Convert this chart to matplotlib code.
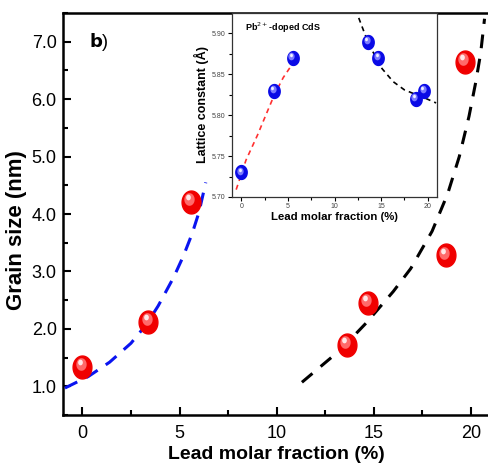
import matplotlib
matplotlib.use("Agg")
import matplotlib.pyplot as plt
from matplotlib.path import Path
from matplotlib.transforms import offset_copy
from matplotlib.ticker import MultipleLocator
import numpy as np

# main panel: grain size vs lead molar fraction
lead = [0.0, 3.4, 5.6, 13.6, 14.7, 18.7, 19.7]
grain = [1.34, 2.12, 4.21, 1.72, 2.45, 3.28, 6.65]

# dashed fit lines
fit_blue_x = [-0.9, 0.3, 1.4, 2.5, 3.3, 3.9, 4.7, 5.2, 5.65, 6.0, 6.35]
fit_blue_y = [0.97, 1.17, 1.42, 1.75, 2.08, 2.4, 2.9, 3.27, 3.66, 4.03, 4.55]
fit_black_x = [11.3, 13.3, 14.6, 16.0, 16.9, 18.0, 18.8, 19.4, 19.9, 20.25, 20.5, 20.7]
fit_black_y = [1.07, 1.64, 2.1, 2.65, 3.05, 3.7, 4.35, 5.0, 5.7, 6.3, 6.8, 7.4]

# inset: lattice constant
inset_lead = [0.0, 3.5, 5.5, 13.6, 14.7, 18.7, 19.6]
lattice = [5.73, 5.83, 5.87, 5.89, 5.87, 5.82, 5.83]
fit_red_x = [-0.55, 0.5, 1.75, 2.7, 3.55, 4.5, 5.8]
fit_red_y = [5.709, 5.745, 5.776, 5.802, 5.825, 5.846, 5.868]
fit_k_x = [12.6, 13.3, 14.1, 15.1, 16.3, 17.5, 18.8, 19.9, 20.9]
fit_k_y = [5.919, 5.898, 5.878, 5.857, 5.841, 5.831, 5.825, 5.820, 5.815]

plt.rcParams['font.family'] = ['Liberation Sans', 'DejaVu Sans']

# slightly tall ellipse used as the ball marker
t = np.linspace(0, 2 * np.pi, 60)
ball = Path(np.column_stack([0.82 * np.cos(t), np.sin(t)]), closed=True)


def draw_balls(ax, fig, x, y, size, base, mid, shine):
    ax.plot(x, y, ls='none', marker=ball, ms=size, mfc=base, mec=base, zorder=5)
    tr = offset_copy(ax.transData, fig=fig, x=-size * 0.08, y=size * 0.12, units='points')
    ax.plot(x, y, ls='none', marker=ball, ms=size * 0.55, mfc=mid, mec='none',
            transform=tr, zorder=6)
    tr2 = offset_copy(ax.transData, fig=fig, x=-size * 0.12, y=size * 0.2, units='points')
    ax.plot(x, y, ls='none', marker=ball, ms=size * 0.25, mfc=shine, mec='none',
            transform=tr2, zorder=7)


fig = plt.figure(figsize=(4.89, 4.66), dpi=100)
ax = fig.add_axes([0.1288, 0.1094, 0.874, 0.8627])

ax.plot(fit_blue_x, fit_blue_y, color='#0a14f0', lw=2.2, dashes=(4.5, 3.2), zorder=3)
ax.plot(fit_black_x, fit_black_y, color='black', lw=2.2, dashes=(4.5, 3.5), zorder=3)
draw_balls(ax, fig, lead, grain, 16.5, '#f00000', '#ff6a6a', '#ffe8e8')

ax.set_xlim(-1, 21)
ax.set_ylim(0.5, 7.5)
ax.xaxis.set_major_locator(MultipleLocator(5))
ax.xaxis.set_minor_locator(MultipleLocator(2.5))
ax.yaxis.set_major_locator(MultipleLocator(1))
ax.yaxis.set_minor_locator(MultipleLocator(0.5))
ax.set_yticks(np.arange(1, 8), [f"{v:.1f}" for v in range(1, 8)])
ax.tick_params(which='both', direction='in', width=1.5, labelsize=13, pad=7)
ax.tick_params(axis='y', pad=4.5)
ax.tick_params(which='major', length=6)
ax.tick_params(which='minor', length=3.5)
for s in ['left', 'bottom', 'top']:
    ax.spines[s].set_linewidth(1.8)
ax.spines['right'].set_visible(False)
ax.set_xlabel("Lead molar fraction (%)", fontsize=14, fontweight='bold', labelpad=3)
ax.set_ylabel("Grain size (nm)", fontsize=16, fontweight='bold')
ax.yaxis.set_label_coords(-0.085, 0.46)
ax.text(0.35, 7.0, r"$\mathbf{b}$)", fontsize=13, va='center')

# inset
ins = fig.add_axes([0.4744, 0.5773, 0.4193, 0.3948])
ins.plot(fit_red_x, fit_red_y, color='#ff3030', lw=1.2, dashes=(3, 2.5), zorder=3)
ins.plot(fit_k_x, fit_k_y, color='black', lw=1.2, dashes=(3, 2.5), zorder=3)
draw_balls(ins, fig, inset_lead, lattice, 10, '#0a0ae6', '#7a7aff', '#f0f0ff')
ins.set_xlim(-1, 21)
ins.set_ylim(5.70, 5.925)
ins.xaxis.set_major_locator(MultipleLocator(5))
ins.xaxis.set_minor_locator(MultipleLocator(2.5))
ins.set_yticks([5.70, 5.75, 5.80, 5.85, 5.90])
ins.yaxis.set_minor_locator(MultipleLocator(0.025))
ins.tick_params(which='both', direction='out', width=0.8, labelsize=5,
                labelcolor='#444444', pad=1.5)
ins.tick_params(which='major', length=3)
ins.tick_params(which='minor', length=2)
for s in ins.spines.values():
    s.set_linewidth(0.9)
    s.set_color('#333333')
ins.set_xlabel("Lead molar fraction (%)", fontsize=8.2, fontweight='bold', labelpad=1)
ins.set_ylabel("Lattice constant (Å)", fontsize=9, fontweight='bold')
ins.yaxis.set_label_coords(-0.11, 0.5)
ins.text(0.4, 5.907, r"Pb$^{2+}$-doped CdS", fontsize=6.5, fontweight='bold', va='center')

fig.savefig("out.png", dpi=100)
